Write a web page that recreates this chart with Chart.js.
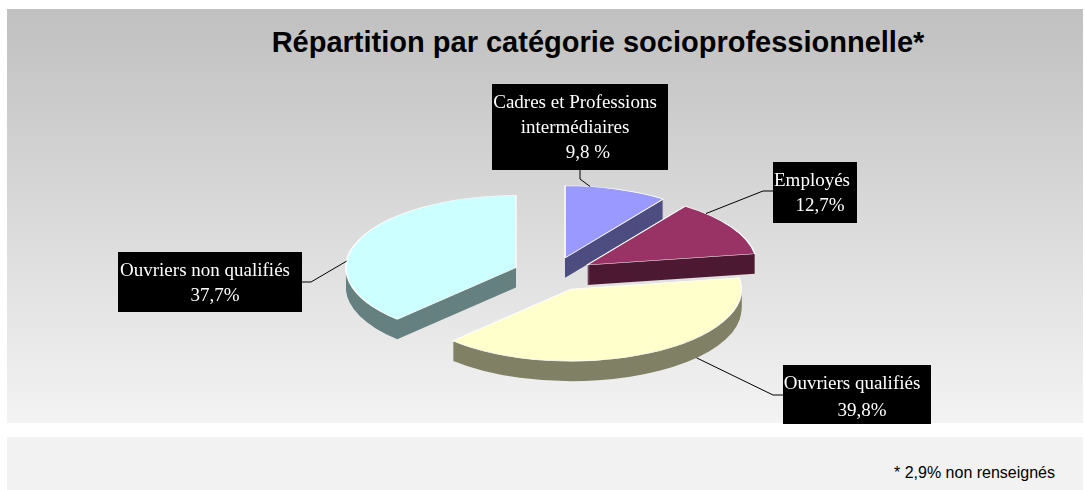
<!DOCTYPE html>
<html><head><meta charset="utf-8">
<script src="https://cdn.jsdelivr.net/npm/chart.js@4.4.0/dist/chart.umd.min.js"></script>
<style>
html,body{margin:0;padding:0;background:#fff;width:1085px;height:490px;overflow:hidden;}
#p1{position:absolute;left:7px;top:9px;width:1076px;height:414px;background:linear-gradient(#c0c0c0,#f3f3f3);}
#p2{position:absolute;left:7px;top:437px;width:1076px;height:53px;background:#f2f2f2;}
#title{position:absolute;left:0;width:1196px;top:26px;line-height:34px;text-align:center;font:bold 29px "Liberation Sans",Arial,sans-serif;color:#000;white-space:nowrap;}
#note{position:absolute;right:30px;top:464px;line-height:20px;font:16px "Liberation Sans",Arial,sans-serif;color:#000;white-space:nowrap;}
#wrap{position:absolute;left:0;top:0;width:1085px;height:490px;}
</style></head>
<body>
<div id="p1"></div>
<div id="p2"></div>
<div id="title">Répartition par catégorie socioprofessionnelle*</div>
<div id="note">* 2,9% non renseignés</div>
<div id="wrap"><canvas id="c" width="1085" height="490"></canvas></div>
<script>
// ---- data ----
const categories = ['Cadres et Professions intermédiaires', 'Employés', 'Ouvriers qualifiés', 'Ouvriers non qualifiés'];
const values = [9.8, 12.7, 39.8, 37.7];
const labelLines = [['Cadres et Professions', 'intermédiaires'], ['Employés'], ['Ouvriers qualifiés'], ['Ouvriers non qualifiés']];
const percentLabels = ['9,8 %', '12,7%', '39,8%', '37,7%'];
const topColors = ['#9999ff', '#993366', '#ffffcc', '#ccffff'];
const sideColors = ['#4d4d80', '#4d1a33', '#808066', '#668080'];

// ---- style ----
const K = 0.424;      // vertical squash of the pie
const DEPTH = 20;     // thickness of the pie
const OFFSET = 40;    // explosion distance
const labelStyle = [
  {box:[492,84,176,86], lines:[[575,108],[575,133],[588,158]], attach:[[580,170],[580,179]], frac:0.24, depth:0},
  {box:[773,162,84,61], lines:[[812,186],[820,211]], attach:[[773,191],[763,191]], frac:0.2, depth:0},
  {box:[783,365,148,59], lines:[[852,389],[862,416]], attach:[[783,395],[773,395]], frac:0.36, depth:DEPTH},
  {box:[118,252,184,60], lines:[[205,276],[215,301]], attach:[[302,282],[311,282]], frac:0.375, depth:0}
];

function centre(chart) {
  const a = chart.chartArea;
  return [(a.left + a.right) / 2, (a.top + a.bottom) / 2];
}
function squashAbout(ctx, cy, d) {
  ctx.translate(0, cy + d);
  ctx.scale(1, K);
  ctx.translate(0, -cy);
}

const pie3d = {
  id: 'pie3d',
  afterDatasetsUpdate(chart) {
    const [cx, cy] = centre(chart);
    chart.getDatasetMeta(0).data.forEach(arc => {
      const mid = (arc.startAngle + arc.endAngle) / 2;
      arc.x = cx + Math.cos(mid) * OFFSET;
      arc.y = cy + Math.sin(mid) * OFFSET;
    });
  },
  beforeDatasetsDraw(chart) {
    const ctx = chart.ctx;
    const meta = chart.getDatasetMeta(0);
    const cy = centre(chart)[1];
    for (let d = DEPTH; d >= 1; d--) {
      ctx.save();
      squashAbout(ctx, cy, d);
      meta.data.forEach((arc, i) => {
        ctx.beginPath();
        ctx.moveTo(arc.x, arc.y);
        ctx.arc(arc.x, arc.y, arc.outerRadius, arc.startAngle, arc.endAngle);
        ctx.closePath();
        ctx.fillStyle = sideColors[i];
        ctx.fill();
      });
      ctx.restore();
    }
    ctx.save();
    squashAbout(ctx, cy, 0);
  },
  afterDatasetsDraw(chart) {
    chart.ctx.restore();
  },
  afterDraw(chart) {
    const ctx = chart.ctx;
    const meta = chart.getDatasetMeta(0);
    const cy = centre(chart)[1];
    ctx.save();
    meta.data.forEach((arc, i) => {
      const st = labelStyle[i];
      const a = arc.startAngle + st.frac * (arc.endAngle - arc.startAngle);
      const ax = arc.x + arc.outerRadius * Math.cos(a);
      const ay = cy + K * (arc.y + arc.outerRadius * Math.sin(a) - cy) + st.depth;
      ctx.beginPath();
      ctx.moveTo(st.attach[0][0], st.attach[0][1]);
      ctx.lineTo(st.attach[1][0], st.attach[1][1]);
      ctx.lineTo(ax, ay);
      ctx.strokeStyle = '#000';
      ctx.lineWidth = 1;
      ctx.stroke();
      const [bx, by, bw, bh] = st.box;
      ctx.fillStyle = '#000';
      ctx.fillRect(bx, by, bw, bh);
      ctx.fillStyle = '#fff';
      ctx.font = '19px "Liberation Serif", "Times New Roman", serif';
      ctx.textAlign = 'center';
      ctx.textBaseline = 'alphabetic';
      const texts = labelLines[i].concat([percentLabels[i]]);
      texts.forEach((t, j) => ctx.fillText(t, st.lines[j][0], st.lines[j][1]));
    });
    ctx.restore();
  }
};

new Chart(document.getElementById('c'), {
  type: 'pie',
  data: {
    labels: categories,
    datasets: [{
      data: values,
      backgroundColor: topColors,
      borderColor: '#ffffff',
      borderWidth: 1.5,
      clip: false
    }]
  },
  options: {
    responsive: false,
    animation: false,
    events: [],
    radius: 170,
    layout: { padding: { left: 21, right: 0, top: 58, bottom: 0 } },
    plugins: { legend: { display: false }, tooltip: { enabled: false }, title: { display: false } }
  },
  plugins: [pie3d]
});
</script>
</body></html>
